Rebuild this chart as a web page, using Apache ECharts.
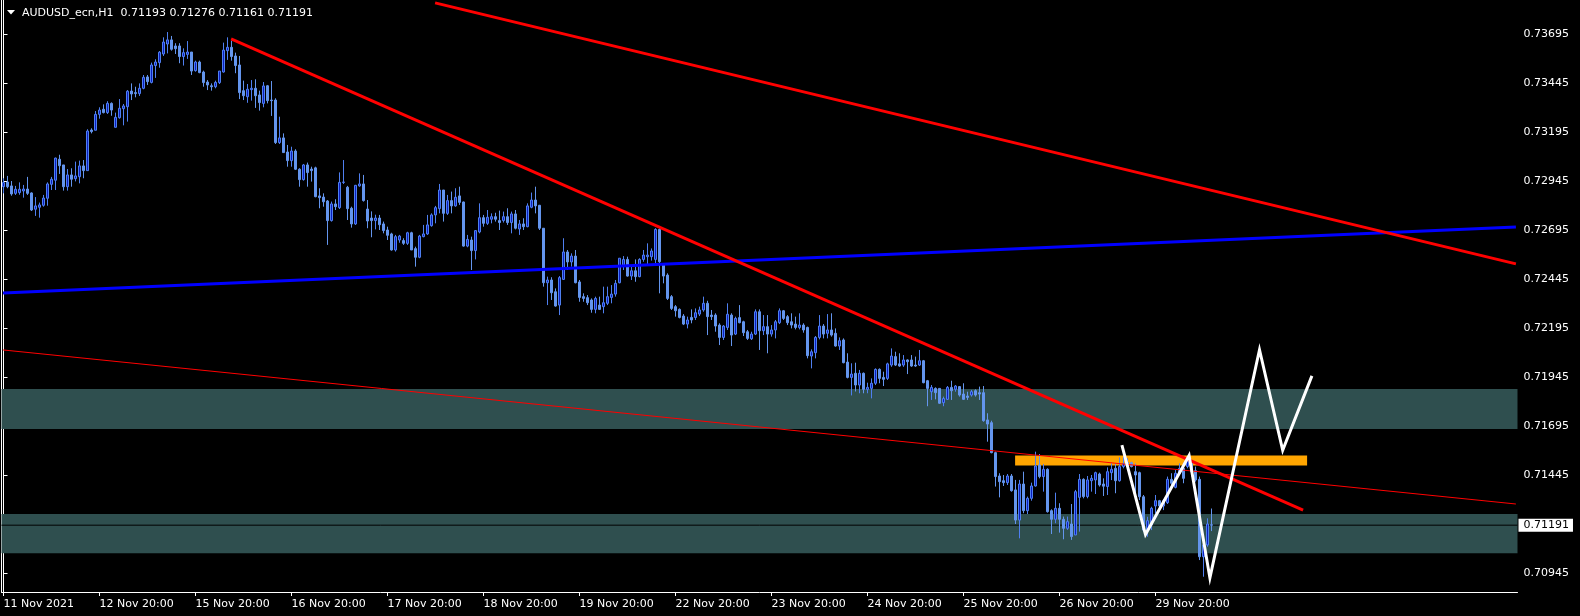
<!DOCTYPE html>
<html><head><meta charset="utf-8">
<script src="https://cdn.jsdelivr.net/npm/echarts@6/dist/echarts.min.js"></script>
<style>html,body{margin:0;padding:0;background:#000;}#c{width:1580px;height:616px;}</style>
</head><body><div id="c"></div>
<script>
// ---------------- data ----------------
const symbolTitle = 'AUDUSD_ecn,H1';
const lastQuote = [0.71193, 0.71276, 0.71161, 0.71191]; // O H L C of the last bar
const barsPerDay = 24;
const dayTickLabels = ['11 Nov 2021','12 Nov 20:00','15 Nov 20:00','16 Nov 20:00','17 Nov 20:00','18 Nov 20:00','19 Nov 20:00','22 Nov 20:00','23 Nov 20:00','24 Nov 20:00','25 Nov 20:00','26 Nov 20:00','29 Nov 20:00'];
const priceTicks = [0.73695,0.73445,0.73195,0.72945,0.72695,0.72445,0.72195,0.71945,0.71695,0.71445,0.70945];
const bidPrice = 0.71191;
const futureBars = 76;
// hourly bars: [open, high, low, close]
const ohlc = [
[0.72918,0.72961,0.72884,0.72939],[0.72942,0.72973,0.72910,0.72918],[0.72922,0.72947,0.72872,0.72881],[0.72884,0.72922,0.72876,0.72905],
[0.72888,0.72940,0.72877,0.72905],[0.72896,0.72927,0.72862,0.72906],[0.72906,0.72968,0.72876,0.72884],[0.72886,0.72889,0.72794,0.72799],
[0.72803,0.72865,0.72769,0.72820],[0.72813,0.72837,0.72760,0.72825],[0.72823,0.72876,0.72816,0.72860],[0.72859,0.72940,0.72821,0.72932],
[0.72930,0.72968,0.72901,0.72956],[0.72951,0.73066,0.72901,0.73064],[0.73058,0.73081,0.72983,0.73025],[0.73029,0.73029,0.72898,0.72918],
[0.72918,0.73008,0.72898,0.72978],[0.72978,0.73012,0.72918,0.72956],[0.72959,0.73046,0.72945,0.72973],[0.72969,0.73051,0.72935,0.73024],
[0.73024,0.73054,0.72961,0.73000],[0.73000,0.73211,0.73000,0.73202],[0.73207,0.73216,0.73190,0.73199],[0.73206,0.73304,0.73206,0.73287],
[0.73287,0.73323,0.73265,0.73309],[0.73313,0.73338,0.73292,0.73296],[0.73296,0.73354,0.73289,0.73343],[0.73343,0.73348,0.73280,0.73309],
[0.73221,0.73296,0.73221,0.73272],[0.73270,0.73365,0.73265,0.73318],[0.73316,0.73340,0.73231,0.73330],[0.73326,0.73411,0.73250,0.73405],
[0.73406,0.73445,0.73360,0.73391],[0.73398,0.73428,0.73374,0.73393],[0.73393,0.73445,0.73381,0.73420],[0.73420,0.73488,0.73415,0.73476],
[0.73478,0.73488,0.73437,0.73454],[0.73450,0.73551,0.73445,0.73539],[0.73536,0.73568,0.73473,0.73554],[0.73551,0.73610,0.73525,0.73604],
[0.73595,0.73680,0.73585,0.73656],[0.73646,0.73707,0.73598,0.73667],[0.73667,0.73687,0.73612,0.73619],[0.73636,0.73650,0.73595,0.73622],
[0.73636,0.73650,0.73548,0.73582],[0.73582,0.73624,0.73536,0.73602],[0.73593,0.73661,0.73570,0.73605],[0.73605,0.73605,0.73488,0.73508],
[0.73510,0.73561,0.73505,0.73554],[0.73554,0.73561,0.73497,0.73500],[0.73503,0.73510,0.73428,0.73449],[0.73452,0.73462,0.73411,0.73437],
[0.73433,0.73445,0.73408,0.73428],[0.73428,0.73459,0.73420,0.73450],[0.73449,0.73508,0.73442,0.73508],[0.73503,0.73653,0.73500,0.73615],
[0.73612,0.73680,0.73565,0.73629],[0.73629,0.73663,0.73561,0.73582],[0.73585,0.73602,0.73497,0.73536],[0.73539,0.73585,0.73365,0.73398],
[0.73408,0.73459,0.73360,0.73382],[0.73377,0.73442,0.73346,0.73415],[0.73413,0.73462,0.73357,0.73420],[0.73420,0.73466,0.73320,0.73382],
[0.73386,0.73408,0.73306,0.73347],[0.73343,0.73452,0.73323,0.73432],[0.73433,0.73437,0.73343,0.73357],[0.73360,0.73457,0.73279,0.73357],
[0.73360,0.73369,0.73136,0.73143],[0.73143,0.73275,0.73136,0.73167],[0.73167,0.73190,0.73092,0.73092],[0.73095,0.73131,0.73020,0.73051],
[0.73051,0.73122,0.73020,0.73100],[0.73100,0.73109,0.73003,0.73007],[0.73007,0.73012,0.72918,0.72954],[0.72954,0.73034,0.72949,0.73029],
[0.73029,0.73041,0.72918,0.72990],[0.73008,0.73020,0.72944,0.73000],[0.73014,0.73020,0.72864,0.72867],[0.72871,0.72910,0.72808,0.72862],
[0.72865,0.72884,0.72816,0.72841],[0.72845,0.72850,0.72621,0.72745],[0.72745,0.72842,0.72740,0.72830],[0.72830,0.72854,0.72799,0.72816],
[0.72811,0.72991,0.72804,0.72940],[0.72940,0.73054,0.72932,0.72942],[0.72915,0.72922,0.72748,0.72806],[0.72808,0.72816,0.72709,0.72728],
[0.72728,0.72927,0.72723,0.72925],[0.72922,0.72986,0.72918,0.72932],[0.72932,0.72978,0.72842,0.72847],[0.72804,0.72850,0.72706,0.72743],
[0.72758,0.72792,0.72660,0.72745],[0.72745,0.72775,0.72700,0.72758],[0.72758,0.72774,0.72697,0.72724],[0.72728,0.72740,0.72680,0.72694],
[0.72697,0.72714,0.72646,0.72670],[0.72677,0.72683,0.72592,0.72595],[0.72595,0.72672,0.72587,0.72663],[0.72646,0.72672,0.72632,0.72666],
[0.72643,0.72655,0.72621,0.72629],[0.72629,0.72688,0.72621,0.72683],[0.72683,0.72688,0.72595,0.72595],[0.72602,0.72612,0.72510,0.72558],
[0.72558,0.72672,0.72553,0.72666],[0.72663,0.72723,0.72660,0.72677],[0.72677,0.72774,0.72672,0.72723],[0.72719,0.72782,0.72714,0.72774],
[0.72774,0.72820,0.72731,0.72811],[0.72806,0.72932,0.72782,0.72901],[0.72901,0.72901,0.72740,0.72782],[0.72782,0.72876,0.72774,0.72847],
[0.72847,0.72893,0.72782,0.72820],[0.72820,0.72910,0.72816,0.72864],[0.72871,0.72918,0.72825,0.72838],[0.72840,0.72842,0.72612,0.72615],
[0.72615,0.72672,0.72609,0.72649],[0.72646,0.72663,0.72493,0.72592],[0.72592,0.72697,0.72547,0.72694],[0.72687,0.72833,0.72680,0.72760],
[0.72760,0.72774,0.72714,0.72731],[0.72731,0.72799,0.72723,0.72762],[0.72752,0.72782,0.72731,0.72765],[0.72765,0.72785,0.72740,0.72752],
[0.72745,0.72796,0.72697,0.72735],[0.72745,0.72791,0.72735,0.72765],[0.72765,0.72808,0.72723,0.72735],[0.72735,0.72791,0.72680,0.72779],
[0.72779,0.72799,0.72700,0.72706],[0.72702,0.72748,0.72672,0.72728],[0.72728,0.72757,0.72697,0.72714],[0.72714,0.72833,0.72711,0.72820],
[0.72813,0.72888,0.72808,0.72850],[0.72850,0.72918,0.72782,0.72820],[0.72823,0.72825,0.72697,0.72706],[0.72706,0.72706,0.72408,0.72428],
[0.72428,0.72459,0.72314,0.72442],[0.72442,0.72456,0.72340,0.72377],[0.72382,0.72399,0.72306,0.72309],[0.72314,0.72462,0.72263,0.72454],
[0.72445,0.72655,0.72442,0.72585],[0.72585,0.72595,0.72493,0.72534],[0.72534,0.72578,0.72510,0.72564],[0.72564,0.72595,0.72425,0.72428],
[0.72432,0.72442,0.72331,0.72353],[0.72357,0.72374,0.72331,0.72348],[0.72352,0.72365,0.72314,0.72326],[0.72340,0.72348,0.72275,0.72292],
[0.72292,0.72357,0.72272,0.72348],[0.72314,0.72357,0.72289,0.72292],[0.72306,0.72408,0.72272,0.72326],[0.72323,0.72408,0.72314,0.72357],
[0.72353,0.72416,0.72323,0.72370],[0.72370,0.72442,0.72357,0.72425],[0.72428,0.72553,0.72425,0.72553],[0.72518,0.72564,0.72493,0.72547],
[0.72547,0.72561,0.72459,0.72462],[0.72462,0.72510,0.72442,0.72489],[0.72489,0.72547,0.72433,0.72459],[0.72459,0.72553,0.72456,0.72547],
[0.72547,0.72595,0.72535,0.72569],[0.72561,0.72629,0.72518,0.72569],[0.72561,0.72603,0.72541,0.72590],[0.72547,0.72706,0.72527,0.72700],
[0.72700,0.72706,0.72374,0.72535],[0.72518,0.72527,0.72425,0.72462],[0.72467,0.72476,0.72340,0.72348],[0.72357,0.72365,0.72289,0.72297],
[0.72306,0.72314,0.72255,0.72285],[0.72292,0.72297,0.72246,0.72251],[0.72258,0.72268,0.72212,0.72217],[0.72217,0.72255,0.72195,0.72238],
[0.72251,0.72292,0.72221,0.72238],[0.72251,0.72297,0.72238,0.72275],[0.72268,0.72306,0.72258,0.72289],[0.72289,0.72357,0.72280,0.72323],
[0.72323,0.72336,0.72161,0.72255],[0.72263,0.72289,0.72238,0.72255],[0.72263,0.72272,0.72178,0.72207],[0.72212,0.72221,0.72110,0.72149],
[0.72149,0.72212,0.72136,0.72207],[0.72200,0.72323,0.72187,0.72267],[0.72263,0.72272,0.72105,0.72161],[0.72166,0.72255,0.72161,0.72246],
[0.72250,0.72314,0.72221,0.72224],[0.72229,0.72234,0.72156,0.72173],[0.72178,0.72187,0.72136,0.72144],[0.72142,0.72178,0.72136,0.72166],
[0.72166,0.72292,0.72161,0.72280],[0.72280,0.72292,0.72085,0.72183],[0.72183,0.72263,0.72161,0.72204],[0.72204,0.72263,0.72068,0.72166],
[0.72166,0.72212,0.72153,0.72187],[0.72187,0.72238,0.72144,0.72229],[0.72224,0.72297,0.72217,0.72285],[0.72285,0.72289,0.72238,0.72246],
[0.72255,0.72263,0.72212,0.72224],[0.72229,0.72272,0.72195,0.72212],[0.72217,0.72255,0.72190,0.72200],[0.72200,0.72272,0.72190,0.72212],
[0.72212,0.72221,0.72173,0.72187],[0.72200,0.72204,0.72042,0.72056],[0.72054,0.72088,0.71991,0.72076],[0.72071,0.72156,0.72042,0.72149],
[0.72149,0.72263,0.72139,0.72207],[0.72207,0.72217,0.72144,0.72166],[0.72170,0.72268,0.72144,0.72187],[0.72187,0.72272,0.72153,0.72161],
[0.72170,0.72195,0.72102,0.72105],[0.72105,0.72149,0.72085,0.72132],[0.72136,0.72144,0.72017,0.72020],[0.72023,0.72068,0.71940,0.71945],
[0.71945,0.72017,0.71853,0.71962],[0.71966,0.72020,0.71873,0.71906],[0.71906,0.71983,0.71864,0.71966],[0.71966,0.71970,0.71864,0.71884],
[0.71884,0.71918,0.71864,0.71894],[0.71889,0.71940,0.71838,0.71915],[0.71915,0.71991,0.71906,0.71986],[0.71986,0.71991,0.71915,0.71940],
[0.71945,0.71974,0.71901,0.71935],[0.71940,0.72020,0.71932,0.72014],[0.72008,0.72093,0.71999,0.72054],[0.72051,0.72076,0.72003,0.72008],
[0.72014,0.72068,0.71999,0.72003],[0.72008,0.72059,0.71999,0.72034],[0.72034,0.72037,0.71962,0.72025],[0.72034,0.72059,0.71999,0.72003],
[0.72008,0.72051,0.71999,0.72003],[0.72008,0.72085,0.72003,0.72030],[0.72030,0.72034,0.71915,0.71918],[0.71928,0.71932,0.71798,0.71889],
[0.71872,0.71906,0.71830,0.71894],[0.71889,0.71894,0.71833,0.71867],[0.71889,0.71889,0.71810,0.71813],[0.71816,0.71847,0.71798,0.71837],
[0.71833,0.71901,0.71830,0.71894],[0.71894,0.71928,0.71830,0.71877],[0.71884,0.71906,0.71872,0.71901],[0.71898,0.71901,0.71847,0.71855],
[0.71860,0.71915,0.71830,0.71833],[0.71850,0.71872,0.71830,0.71843],[0.71855,0.71881,0.71847,0.71872],[0.71877,0.71884,0.71847,0.71855],
[0.71867,0.71898,0.71830,0.71860],[0.71867,0.71901,0.71719,0.71724],[0.71728,0.71762,0.71617,0.71707],[0.71714,0.71724,0.71558,0.71561],
[0.71561,0.71566,0.71388,0.71439],[0.71442,0.71456,0.71333,0.71413],[0.71418,0.71447,0.71391,0.71408],[0.71408,0.71452,0.71396,0.71442],
[0.71442,0.71452,0.71362,0.71367],[0.71371,0.71422,0.71197,0.71217],[0.71217,0.71422,0.71124,0.71401],[0.71401,0.71464,0.71252,0.71265],
[0.71265,0.71337,0.71248,0.71328],[0.71328,0.71408,0.71316,0.71391],[0.71391,0.71566,0.71388,0.71493],[0.71498,0.71554,0.71430,0.71439],
[0.71439,0.71503,0.71362,0.71476],[0.71476,0.71481,0.71255,0.71260],[0.71265,0.71272,0.71146,0.71221],[0.71221,0.71357,0.71201,0.71277],
[0.71277,0.71303,0.71153,0.71221],[0.71221,0.71235,0.71119,0.71175],[0.71175,0.71235,0.71167,0.71209],[0.71197,0.71299,0.71116,0.71133],
[0.71141,0.71371,0.71141,0.71362],[0.71333,0.71452,0.71158,0.71425],[0.71425,0.71430,0.71328,0.71337],[0.71337,0.71442,0.71328,0.71422],
[0.71418,0.71447,0.71362,0.71430],[0.71422,0.71464,0.71350,0.71459],[0.71452,0.71459,0.71388,0.71396],[0.71401,0.71430,0.71340,0.71390],
[0.71388,0.71486,0.71345,0.71464],[0.71459,0.71506,0.71421,0.71476],[0.71481,0.71506,0.71354,0.71418],[0.71418,0.71537,0.71413,0.71490],
[0.71490,0.71541,0.71481,0.71506],[0.71490,0.71532,0.71481,0.71510],[0.71510,0.71515,0.71486,0.71490],[0.71464,0.71506,0.71345,0.71447],
[0.71459,0.71464,0.71319,0.71336],[0.71336,0.71345,0.71158,0.71166],[0.71166,0.71234,0.71132,0.71214],[0.71192,0.71285,0.71166,0.71277],
[0.71289,0.71345,0.71251,0.71316],[0.71316,0.71320,0.71277,0.71289],[0.71289,0.71323,0.71268,0.71316],[0.71306,0.71439,0.71299,0.71425],
[0.71425,0.71456,0.71388,0.71405],[0.71384,0.71473,0.71379,0.71456],[0.71456,0.71506,0.71447,0.71481],[0.71481,0.71510,0.71405,0.71430],
[0.71490,0.71532,0.71481,0.71520],[0.71506,0.71515,0.71439,0.71464],[0.71469,0.71490,0.71413,0.71422],[0.71425,0.71439,0.71013,0.71030],
[0.71030,0.71120,0.70928,0.71090],[0.71090,0.71226,0.71081,0.71197],[0.71193,0.71276,0.71161,0.71191]
];
// drawn objects: [barIndex, price]
const trendRedMain  = [[56.9, 0.73672], [324.9, 0.71268]];
const trendRedUpper = [[107.9, 0.73856], [378.1, 0.72524]];
const trendBlue     = [[-0.1, 0.72376], [378.1, 0.72712]];
const trendRedThin  = [[-0.1, 0.72085], [378.1, 0.71299]];
const zoneUpper = [0.71682, 0.71886];
const zoneLower = [0.71048, 0.71248];
const orangeBox = [[252.9, 0.71547], [325.9, 0.71496]];
const zigzag = [[279.6,0.71600],[285.5,0.71143],[296.4,0.71547],[301.6,0.70922],[314.0,0.72086],[319.8,0.71573],[327.1,0.71953]];

// ---------------- chart ----------------
const FONT = '"DejaVu Sans", sans-serif';
const totalBars = ohlc.length + futureBars;
const categories = [];
for (let i = 0; i < totalBars; i++) categories.push(String(i));
const candleData = ohlc.map(r => [r[0], r[3], r[2], r[1]]);
const isTick = (idx) => idx % barsPerDay === 0 && idx / barsPerDay < dayTickLabels.length;
const yMin = 0.708501, yMax = 0.738705;
const bidLine = [[-0.5, bidPrice], [totalBars - 0.5, bidPrice]];

const chart = echarts.init(document.getElementById('c'), null, {renderer: 'canvas'});
chart.setOption({
  animation: false,
  backgroundColor: '#000',
  grid: {left: 1.5, top: 0, width: 1516, height: 592, containLabel: false, outerBoundsMode: 'none'},
  graphic: [
    {type: 'polygon', shape: {points: [[7,10],[15,10],[11,14.5]]}, style: {fill: '#fff'}},
    {type: 'text', x: 22, y: 13, style: {text: symbolTitle + '  ' + lastQuote.map(v => v.toFixed(5)).join(' '), fill: '#fff', font: '11px ' + FONT, verticalAlign: 'middle'}}
  ],
  xAxis: [
    {type: 'category', data: categories, boundaryGap: true,
     axisLine: {show: true, lineStyle: {color: '#fff', width: 1}},
     axisTick: {show: true, alignWithLabel: true, length: 4, interval: (i) => isTick(i), lineStyle: {color: '#fff'}},
     axisLabel: {show: true, interval: (i) => isTick(i), align: 'left', margin: 7, color: '#fff', fontSize: 11, fontFamily: FONT,
       formatter: (v, i) => dayTickLabels[Math.round(i / barsPerDay)] || ''},
     splitLine: {show: false}},
    {type: 'value', min: -0.5, max: totalBars - 0.5, show: false}
  ],
  yAxis: [
    {type: 'value', position: 'right', min: yMin, max: yMax, scale: true,
     axisLine: {show: true, lineStyle: {color: '#fff', width: 1}},
     axisTick: {show: true, length: 4, customValues: priceTicks, lineStyle: {color: '#fff'}},
     axisLabel: {show: true, customValues: priceTicks, margin: 6, color: '#fff', fontSize: 11, fontFamily: FONT, formatter: (v) => v.toFixed(5)},
     splitLine: {show: false}},
    {type: 'value', position: 'left', min: yMin, max: yMax, scale: true,
     axisLine: {show: true, lineStyle: {color: '#fff', width: 1}},
     axisTick: {show: false}, axisLabel: {show: false}, splitLine: {show: false}},
    {type: 'value', position: 'right', min: yMin, max: yMax, scale: true,
     axisLine: {show: false}, axisTick: {show: false}, splitLine: {show: false},
     axisLabel: {show: true, customValues: [bidPrice], margin: 1, color: '#000', backgroundColor: '#fff',
       padding: [1, 4, 0, 5], lineHeight: 12, fontSize: 11, fontFamily: FONT, formatter: (v) => v.toFixed(5)}}
  ],
  series: [
    {type: 'line', xAxisIndex: 1, yAxisIndex: 0, data: [], z: 1, silent: true,
     markArea: {silent: true, itemStyle: {color: '#2f4f4f', opacity: 1}, label: {show: false},
       data: [
         [{yAxis: zoneUpper[0]}, {yAxis: zoneUpper[1]}],
         [{yAxis: zoneLower[0]}, {yAxis: zoneLower[1]}],
         [{xAxis: orangeBox[0][0], yAxis: orangeBox[0][1], itemStyle: {color: '#ffa500', opacity: 1}}, {xAxis: orangeBox[1][0], yAxis: orangeBox[1][1]}]
       ]}},
    {type: 'line', xAxisIndex: 1, yAxisIndex: 0, data: bidLine, z: 1.5, symbol: 'none', silent: true, lineStyle: {color: '#000', width: 1}},
    {type: 'candlestick', xAxisIndex: 0, yAxisIndex: 0, data: candleData, barWidth: 2, z: 2,
     itemStyle: {color: '#0a1ec0', color0: '#6495ed', borderColor: '#4f7ff0', borderColor0: '#6495ed', borderWidth: 1}},
    {type: 'line', xAxisIndex: 1, yAxisIndex: 0, data: trendRedThin, z: 3, symbol: 'none', silent: true, lineStyle: {color: '#ff0000', width: 1}},
    {type: 'line', xAxisIndex: 1, yAxisIndex: 0, data: trendBlue, z: 4, symbol: 'none', silent: true, lineStyle: {color: '#0000ff', width: 3}},
    {type: 'line', xAxisIndex: 1, yAxisIndex: 0, data: trendRedUpper, z: 4, symbol: 'none', silent: true, lineStyle: {color: '#ff0000', width: 3}},
    {type: 'line', xAxisIndex: 1, yAxisIndex: 0, data: trendRedMain, z: 5, symbol: 'none', silent: true, lineStyle: {color: '#ff0000', width: 3}},
    {type: 'line', xAxisIndex: 1, yAxisIndex: 0, data: zigzag, z: 6, symbol: 'none', silent: true, lineStyle: {color: '#ffffff', width: 3, join: 'miter'}}
  ]
});
</script></body></html>
